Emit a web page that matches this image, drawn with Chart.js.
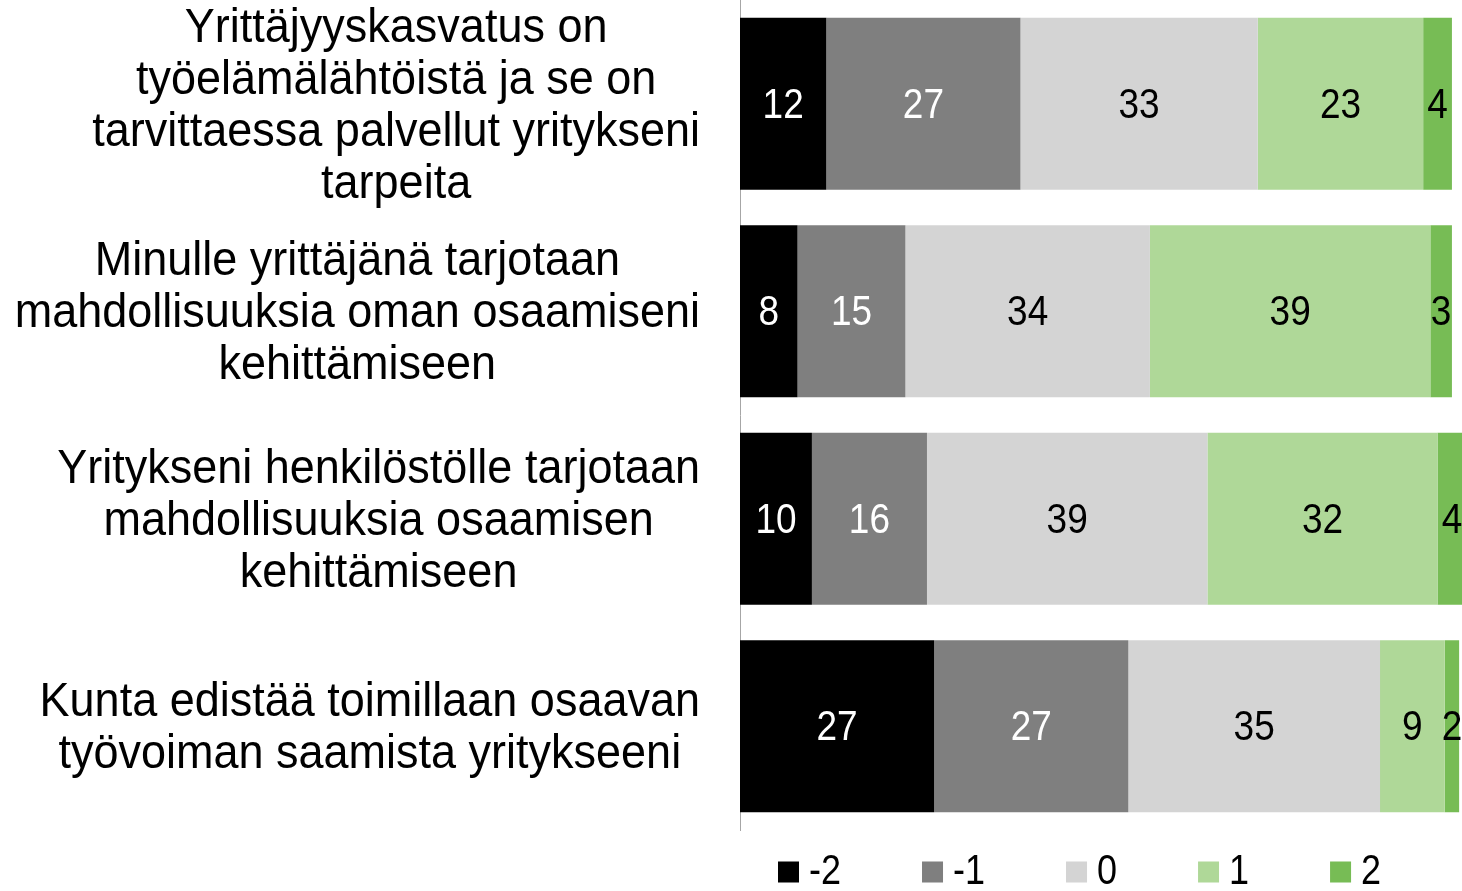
<!DOCTYPE html>
<html>
<head>
<meta charset="utf-8">
<script src="https://cdn.jsdelivr.net/npm/chart.js@4"></script>
<style>
html,body{margin:0;padding:0;background:#fff;}
#wrap{position:relative;width:1462px;height:891px;}
</style>
</head>
<body>
<div id="wrap"><canvas id="c"></canvas></div>
<script>
const categories = [
  ["Yrittäjyyskasvatus on", "työelämälähtöistä ja se on", "tarvittaessa palvellut yritykseni", "tarpeita"],
  ["Minulle yrittäjänä tarjotaan", "mahdollisuuksia oman osaamiseni", "kehittämiseen"],
  ["Yritykseni henkilöstölle tarjotaan", "mahdollisuuksia osaamisen", "kehittämiseen"],
  ["Kunta edistää toimillaan osaavan", "työvoiman saamista yritykseeni"]
];
const seriesNames = ["-2", "-1", "0", "1", "2"];
const sMinus2 = [12, 8, 10, 27];
const sMinus1 = [27, 15, 16, 27];
const sZero   = [33, 34, 39, 35];
const sPlus1  = [23, 39, 32, 9];
const sPlus2  = [4, 3, 4, 2];
const seriesValues = [sMinus2, sMinus1, sZero, sPlus1, sPlus2];
const colors = ["#000000", "#7f7f7f", "#d4d4d4", "#afd898", "#77bc55"];
const labelColors = ["#ffffff", "#ffffff", "#000000", "#000000", "#000000"];
const FONT = "'Liberation Sans', Arial, sans-serif";

function stretchText(ctx, text, x, y, sy) {
  ctx.save();
  ctx.translate(x, y);
  ctx.scale(1, sy);
  ctx.fillText(text, 0, 0);
  ctx.restore();
}

const yLabelPlugin = {
  id: 'yLabels',
  afterDraw(chart) {
    const ctx = chart.ctx;
    const ys = chart.scales.y;
    const right = chart.chartArea.left - 40;
    ctx.save();
    ctx.font = "45px " + FONT;
    ctx.fillStyle = "#000";
    ctx.textBaseline = "middle";
    ctx.textAlign = "center";
    const lh = 52;
    chart.data.labels.forEach((lines, i) => {
      const yc = ys.getPixelForValue(i) + 3;
      const maxW = Math.max(...lines.map(l => ctx.measureText(l).width));
      const cx = right - maxW / 2;
      const y0 = yc - (lines.length - 1) * lh / 2;
      lines.forEach((l, k) => stretchText(ctx, l, cx, y0 + k * lh, 1.05));
    });
    ctx.restore();
  }
};

const valueLabelPlugin = {
  id: 'valueLabels',
  afterDatasetsDraw(chart) {
    const ctx = chart.ctx;
    ctx.save();
    ctx.font = "37px " + FONT;
    ctx.textAlign = "center";
    ctx.textBaseline = "middle";
    chart.data.datasets.forEach((ds, di) => {
      const meta = chart.getDatasetMeta(di);
      meta.data.forEach((el, i) => {
        const v = ds.data[i];
        ctx.fillStyle = labelColors[di];
        stretchText(ctx, String(v), (el.x + el.base) / 2, el.y + 2, 1.17);
      });
    });
    ctx.restore();
  }
};

const legendPlugin = {
  id: 'customLegend',
  afterDraw(chart) {
    const ctx = chart.ctx;
    ctx.save();
    ctx.font = "36px " + FONT;
    ctx.textBaseline = "middle";
    ctx.textAlign = "left";
    let x = chart.chartArea.left + 38;
    const yc = chart.chartArea.bottom + 42;
    const box = 21, gap = 10, pad = 81;
    chart.data.datasets.forEach((ds) => {
      ctx.fillStyle = ds.backgroundColor;
      ctx.fillRect(x, yc - box / 2, box, box);
      ctx.fillStyle = "#000";
      stretchText(ctx, ds.label, x + box + gap, yc, 1.2);
      x += box + gap + ctx.measureText(ds.label).width + pad;
    });
    ctx.restore();
  }
};

new Chart(document.getElementById('c'), {
  type: 'bar',
  data: {
    labels: categories,
    datasets: seriesNames.map((n, i) => ({
      label: n,
      data: seriesValues[i],
      backgroundColor: colors[i],
      borderWidth: 0,
      barPercentage: 0.83,
      categoryPercentage: 1.0
    }))
  },
  options: {
    indexAxis: 'y',
    responsive: true,
    maintainAspectRatio: false,
    animation: false,
    layout: { padding: { top: 0, right: 0, bottom: 61, left: 0 } },
    plugins: { legend: { display: false }, tooltip: { enabled: false } },
    scales: {
      x: { stacked: true, min: 0, max: 100.4, display: false },
      y: {
        stacked: true,
        grid: { display: false },
        border: { display: true, color: '#a6a6a6', width: 1 },
        ticks: { display: false },
        afterFit(scale) { scale.width = 740; }
      }
    }
  },
  plugins: [yLabelPlugin, valueLabelPlugin, legendPlugin]
});
</script>
</body>
</html>
